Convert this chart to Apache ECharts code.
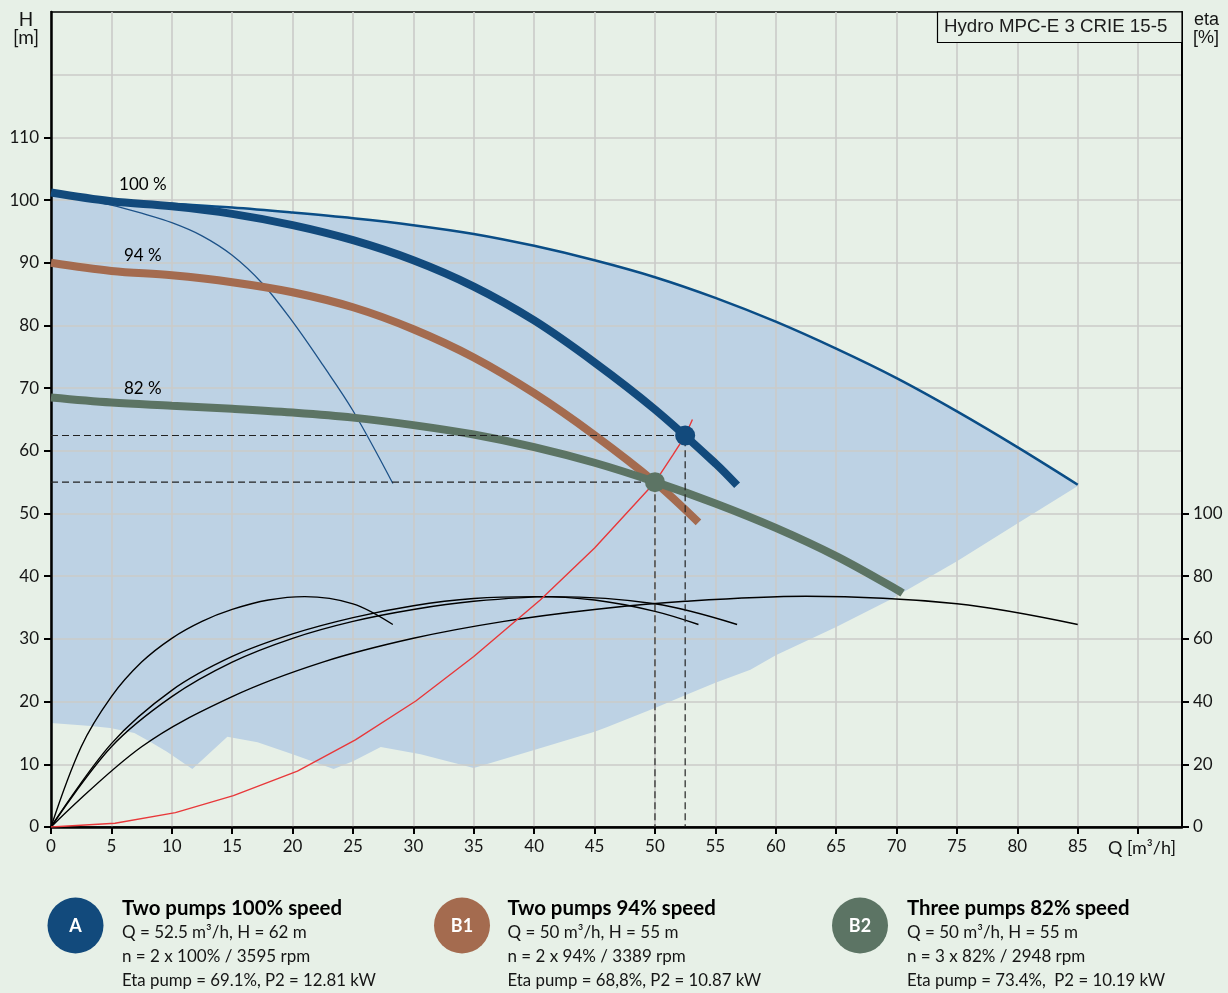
<!DOCTYPE html>
<html>
<head>
<meta charset="utf-8">
<title>Hydro MPC-E 3 CRIE 15-5</title>
<script src="https://cdn.jsdelivr.net/npm/echarts@6/dist/echarts.min.js"></script>
<style>
  html, body { margin: 0; padding: 0; background: #e7f0e7; }
  #chart { width: 1228px; height: 993px; }
</style>
</head>
<body>
<div id="chart"></div>
<script>
// axis ticks
const qTicks = [0, 5, 10, 15, 20, 25, 30, 35, 40, 45, 50, 55, 60, 65, 70, 75, 80, 85, 90]
const qLabels = [0, 5, 10, 15, 20, 25, 30, 35, 40, 45, 50, 55, 60, 65, 70, 75, 80, 85]
const hLabels = [0, 10, 20, 30, 40, 50, 60, 70, 80, 90, 100, 110]
const etaLabels = [0, 20, 40, 60, 80, 100]

// pump curves [Q, H]
const curve100 = [[0, 101.2], [5, 99.8], [10, 99], [15, 97.8], [20, 96], [25, 93.6], [30, 90.4], [35, 86.2], [40, 80.8], [45, 74.1], [50, 66.6], [55, 58], [56.8, 54.5]]
const curve94 = [[0, 90], [5, 88.7], [10, 88], [15, 86.9], [20, 85.3], [25, 82.9], [30, 79.4], [35, 74.9], [40, 69.2], [45, 62.5], [50, 55], [53.6, 48.6]]
const curve82 = [[0, 68.5], [5, 67.7], [10, 67.2], [15, 66.7], [20, 66.1], [25, 65.3], [30, 64.1], [35, 62.6], [40, 60.6], [45, 58.1], [50, 55.05], [55, 51.6], [60, 47.7], [65, 43.2], [70, 37.9], [70.5, 37.3]]
const branchCurve = [[0, 100.9], [2.5, 100.2], [5, 99.2], [7.5, 97.9], [10, 96.4], [12.5, 94.3], [15, 91.2], [17.5, 86.7], [20, 80.6], [22.5, 73.7], [25, 66.4], [28.3, 54.8]]

// envelope
const envelopeTop = [[0, 100.9], [5, 100], [10, 99.4], [15, 98.8], [20, 98], [25, 97.1], [30, 96], [35, 94.6], [40, 92.7], [45, 90.4], [50, 87.7], [55, 84.4], [60, 80.6], [65, 76.3], [70, 71.6], [75, 66.3], [80, 60.6], [85, 54.6]]
const envelopeBottom = [[0, 16.6], [3.3, 16.1], [4.9, 15.8], [6.9, 15], [8.2, 13.6], [9.6, 12], [11.7, 9.25], [14.6, 14.4], [17.1, 13.5], [20, 11.6], [23.4, 9.25], [25, 10.5], [27.3, 12.75], [30.6, 11.6], [35, 9.4], [40, 12.3], [45, 15.2], [46, 15.9], [50, 19], [52.5, 21], [55, 23], [57.9, 25.1], [60, 27.4], [65, 31.9], [69.5, 36.3], [75, 42.4], [80, 48.4], [85, 54.4]]

// system curve [Q, H]
const systemCurve = [[0, 0], [5.3, 0.6], [10.3, 2.3], [15.1, 5], [20.4, 8.9], [25.2, 13.9], [30.2, 20.1], [35, 27.2], [40.5, 36.2], [45, 44.5], [50, 55], [51.5, 59.4], [52.5, 62.4], [53.1, 65]]

// eta curves [Q, eta]
const etaBranch = [[0, 0], [2.5, 25.6], [5, 41.6], [7.5, 52.6], [10, 60.2], [12.5, 65.6], [15, 69.4], [18, 72.4], [21, 73.5], [25, 71.2], [28.3, 64.6]]
const etaTwo94 = [[0, 0], [5, 26.6], [10, 43.6], [15, 54.4], [20, 61.6], [25, 66.8], [30, 70.6], [35, 72.9], [40, 73.5], [45, 72.4], [50, 68.8], [53.6, 64.6]]
const etaTwo100 = [[0, 0], [5, 25.6], [10, 41.6], [15, 52.6], [20, 60.2], [25, 65.6], [30, 69.4], [35, 72], [41.5, 73.5], [50, 71.2], [56.8, 64.6]]
const etaThree = [[0, 0], [7.5, 25.6], [15, 41.6], [22.5, 52.6], [30, 60.2], [37.5, 65.6], [45, 69.4], [52.5, 72], [62.5, 73.6], [75, 71.2], [85, 64.6]]

// duty points
const dutyA = [52.5, 62.45]
const dutyB = [50, 55]
const curveNames = [[7.6, 102.5, '100 %'], [7.6, 91.1, '94 %'], [7.6, 70, '82 %']]

// legend text
const legendBadges = ['A', 'B1', 'B2']
const legendColors = ['#124a7c', '#a46b4f', '#5c7464']
const legendTitles = ['Two pumps 100% speed', 'Two pumps 94% speed', 'Three pumps 82% speed']
const legendDuty = ['Q = 52.5 m³/h, H = 62 m', 'Q = 50 m³/h, H = 55 m', 'Q = 50 m³/h, H = 55 m']
const legendSpeed = ['n = 2 x 100% / 3595 rpm', 'n = 2 x 94% / 3389 rpm', 'n = 3 x 82% / 2948 rpm']
const legendEta = ['Eta pump = 69.1%, P2 = 12.81 kW', 'Eta pump = 68,8%, P2 = 10.87 kW', 'Eta pump = 73.4%,  P2 = 10.19 kW']

const bg = '#e7f0e7'
const gridColor = '#cbcbc9'
const sans = 'Lato'
const qMax = 93.63

const curve = (data, color, width, z, yAxisIndex = 0, smooth = 0.35) => ({
  type: 'line', data, yAxisIndex, smooth, z, silent: true,
  showSymbol: false, lineStyle: { color, width }
})

const dashed = (points) => ({
  type: 'line', data: points, z: 5, silent: true, showSymbol: false,
  lineStyle: { color: '#222', width: 1.2, type: [7, 4] }
})

const duty = (point, color) => ({
  type: 'scatter', data: [point], symbolSize: 20, z: 7, silent: true,
  itemStyle: { color, opacity: 1 }
})

const txt = (text, x, y, font, fill = '#151515', align = 'left') => ({
  type: 'text', z: 100, silent: true,
  style: { text, x, y, font, fill, align, verticalAlign: 'middle' }
})

const legendX = [75.5, 462, 860]
const legendTextX = [122, 507.5, 907]
const legendGraphic = legendBadges.flatMap((badge, i) => [
  { type: 'circle', z: 100, silent: true, shape: { cx: legendX[i], cy: 925.5, r: 28 }, style: { fill: legendColors[i] } },
  txt(badge, legendX[i], 926, `bold 18px ${sans}`, '#fff', 'center'),
  txt(legendTitles[i], legendTextX[i], 908, `bold 20.4px ${sans}`, '#000'),
  txt(legendDuty[i], legendTextX[i], 933, `17px ${sans}`),
  txt(legendSpeed[i], legendTextX[i], 956.5, `17px ${sans}`),
  txt(legendEta[i], legendTextX[i], 980.5, `16.8px ${sans}`)
])

const chart = echarts.init(document.getElementById('chart'))
const axisFont = { fontFamily: sans, fontSize: 17, color: '#151515' }
const blackAxis = { show: true, onZero: false, lineStyle: { color: '#000', width: 2.5 } }
const blackTick = { show: true, length: 7, lineStyle: { color: '#000', width: 2 } }

chart.setOption({
  backgroundColor: bg,
  animation: false,
  grid: { left: 51, top: 12, width: 1131, height: 815, show: true, backgroundColor: bg, borderColor: '#000', borderWidth: 1.5 },
  xAxis: {
    type: 'value', min: 0, max: qMax, z: 1,
    axisLine: blackAxis,
    axisTick: { ...blackTick, customValues: qTicks },
    axisLabel: { ...axisFont, margin: 11, customValues: qLabels, showMinLabel: true, showMaxLabel: true },
    splitLine: { show: true, lineStyle: { color: gridColor, width: 1.6 } }
  },
  yAxis: [
    // left scale
    {
      type: 'value', min: 0, max: 130, position: 'left', z: 1,
      axisLine: blackAxis,
      axisTick: { ...blackTick, customValues: hLabels },
      axisLabel: { ...axisFont, margin: 12, customValues: hLabels },
      splitLine: { show: false }
    },
    // right eta scale
    {
      type: 'value', min: 0, max: 260, position: 'right', z: 1,
      axisLine: { ...blackAxis, lineStyle: { color: '#000', width: 2 } },
      axisTick: { ...blackTick, customValues: etaLabels },
      axisLabel: { ...axisFont, margin: 11, customValues: etaLabels },
      splitLine: { show: false }
    },
    // only the horizontal grid, runs up to 120
    {
      type: 'value', min: 0, max: 130, interval: 10, position: 'left', z: 1,
      axisLine: { show: false }, axisTick: { show: false }, axisLabel: { show: false },
      splitLine: { show: true, showMaxLine: false, showMinLine: false, lineStyle: { color: gridColor, width: 1.6 } }
    }
  ],
  series: [
    {
      type: 'custom', z: 0, silent: true,
      data: envelopeTop,
      encode: { x: 0, y: 1 },
      renderItem: (params, api) => {
        if (params.dataIndex !== 0) return null
        const outline = envelopeTop.concat([...envelopeBottom].reverse())
        return { type: 'polygon', shape: { points: outline.map((p) => api.coord(p)) }, style: { fill: '#bdd2e4' } }
      }
    },
    curve(envelopeTop, '#0a4d86', 2.5, 3),
    curve(branchCurve, '#1d5288', 1.3, 3),
    curve(etaBranch, '#000', 1.4, 3, 1),
    curve(etaTwo94, '#000', 1.4, 3, 1),
    curve(etaTwo100, '#000', 1.4, 3, 1),
    curve(etaThree, '#000', 1.4, 3, 1),
    curve(systemCurve, '#e8383a', 1.4, 3, 0, false),
    curve(curve82, legendColors[2], 8, 4),
    curve(curve94, legendColors[1], 8, 3.5),
    curve(curve100, legendColors[0], 8, 4),
    dashed([[0, dutyA[1]], dutyA, [dutyA[0], 0]]),
    dashed([[0, dutyB[1]], dutyB, [dutyB[0], 0]]),
    duty(dutyA, legendColors[0]),
    duty(dutyB, legendColors[2]),
    {
      type: 'scatter', symbolSize: 0, z: 6, silent: true, data: curveNames,
      itemStyle: { opacity: 1 },
      label: {
        show: true, position: 'inside', fontFamily: sans, fontSize: 17, color: '#000', opacity: 1,
        formatter: (p) => p.value[2]
      }
    }
  ],
  graphic: [
    { type: 'rect', z: 100, silent: true, shape: { x: 937.5, y: 12, width: 244.5, height: 30.5 }, style: { fill: bg, stroke: '#000', lineWidth: 1.2 } },
    txt('Hydro MPC-E 3 CRIE 15-5', 944, 26.5, '18.7px "Liberation Sans"', '#1c1c1c'),
    txt('H', 26, 20, `19px ${sans}`, '#151515', 'center'),
    txt('[m]', 26, 38, `19px ${sans}`, '#151515', 'center'),
    txt('eta', 1194, 20, '18px "Liberation Sans"'),
    txt('[%]', 1193, 38, '18px "Liberation Sans"'),
    txt('Q [m³/h]', 1108, 848, `18px ${sans}`),
    ...legendGraphic
  ]
})
</script>
</body>
</html>
